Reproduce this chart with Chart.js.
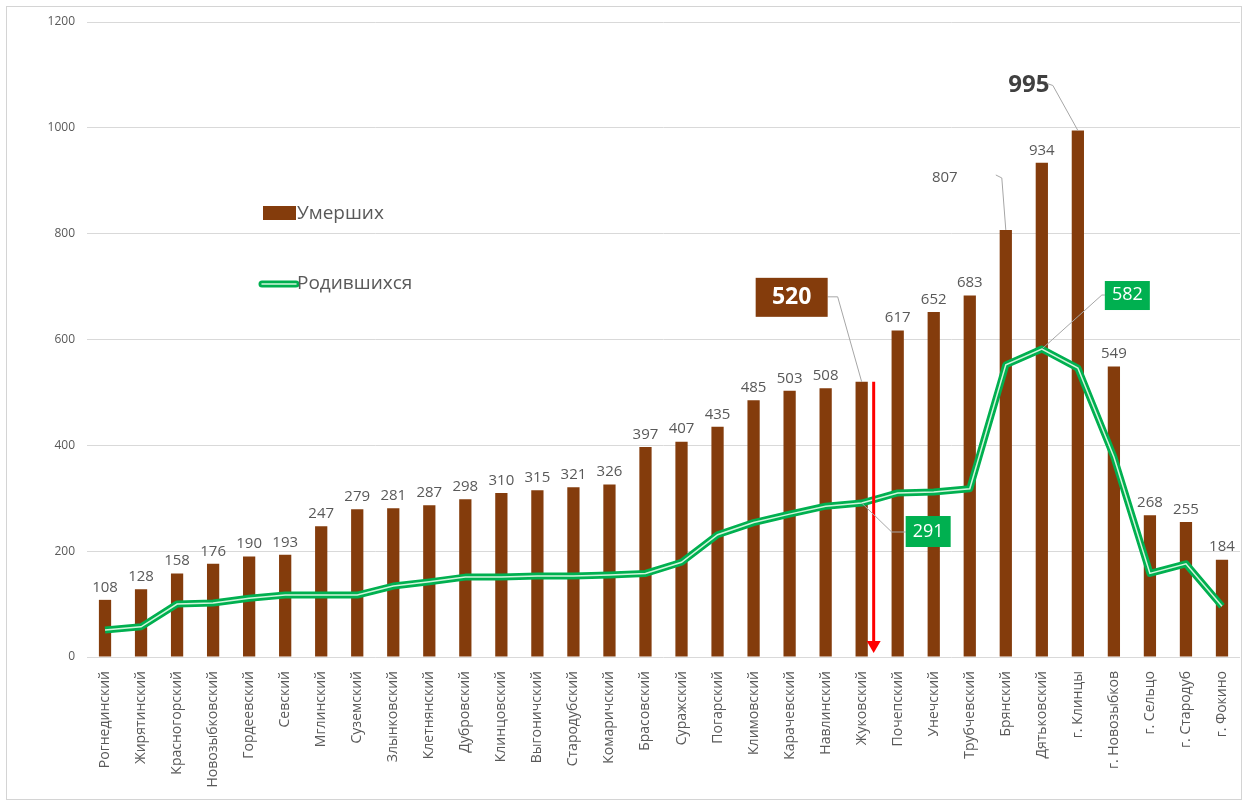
<!DOCTYPE html>
<html>
<head>
<meta charset="utf-8">
<script src="https://cdn.jsdelivr.net/npm/chart.js@4"></script>
<style>
  html, body { margin: 0; padding: 0; background: #fff; }
  #wrap { width: 1247px; height: 805px; position: relative; }
</style>
</head>
<body>
<div id="wrap"><canvas id="chart" width="1247" height="805"></canvas></div>
<script>
const categories = ["Рогнединский", "Жирятинский", "Красногорский", "Новозыбковский", "Гордеевский", "Севский",
    "Мглинский", "Суземский", "Злынковский", "Клетнянский", "Дубровский", "Клинцовский", "Выгоничский",
    "Стародубский", "Комаричский", "Брасовский", "Суражский", "Погарский", "Климовский", "Карачевский",
    "Навлинский", "Жуковский", "Почепский", "Унечский", "Трубчевский", "Брянский", "Дятьковский",
    "г. Клинцы", "г. Новозыбков", "г. Сельцо", "г. Стародуб", "г. Фокино"];
const deaths = [108, 128, 158, 176, 190, 193, 247, 279, 281, 287, 298, 310, 315, 321, 326, 397, 407, 435, 485, 503,
    508, 520, 617, 652, 683, 807, 934, 995, 549, 268, 255, 184];
const births = [51, 57, 100, 102, 111, 117, 117, 117, 134, 142, 151, 151, 153, 153, 155, 158, 179, 231, 254, 270,
    285, 291, 310, 312, 318, 552, 582, 546, 378, 158, 176, 96];
const yTicks = [0, 200, 400, 600, 800, 1000, 1200];

const BROWN = '#843C0C';
const GREEN = '#00B050';
const TEXT = '#595959';
const FONT = '"Open Sans", "Noto Sans", sans-serif';

// indexes with their own callouts instead of a plain label
const calloutIdx = { zhuk: 21, bryansk: 25, klintsy: 27, dyatkovo: 26 };

const framePlugin = {
    id: 'frame',
    beforeDraw(chart) {
        const ctx = chart.ctx;
        ctx.save();
        ctx.strokeStyle = '#d4d4d4';
        ctx.lineWidth = 1;
        ctx.strokeRect(6.5, 6.5, 1235, 793);
        ctx.restore();
    }
};

const labelsPlugin = {
    id: 'labels',
    afterDatasetsDraw(chart) {
        const ctx = chart.ctx;
        const bars = chart.getDatasetMeta(2).data;
        const line = chart.getDatasetMeta(1).data;
        ctx.save();
        ctx.textAlign = 'center';
        ctx.textBaseline = 'bottom';
        ctx.fillStyle = TEXT;
        ctx.font = '15px ' + FONT;
        const skip = [calloutIdx.zhuk, calloutIdx.bryansk, calloutIdx.klintsy];
        bars.forEach((b, i) => {
            if (skip.includes(i)) return;
            ctx.fillText(deaths[i], b.x, b.y - 5);
        });

        ctx.strokeStyle = '#a6a6a6';
        ctx.lineWidth = 1;

        // 807 - Брянский
        let b = bars[calloutIdx.bryansk];
        ctx.fillText(deaths[calloutIdx.bryansk], b.x - 61, b.y - 45);
        ctx.beginPath();
        ctx.moveTo(b.x - 10, b.y - 55);
        ctx.lineTo(b.x - 4, b.y - 52);
        ctx.lineTo(b.x, b.y);
        ctx.stroke();

        // 995 - г. Клинцы
        b = bars[calloutIdx.klintsy];
        ctx.font = 'bold 24px ' + FONT;
        ctx.fillStyle = '#404040';
        ctx.textBaseline = 'middle';
        ctx.fillText(deaths[calloutIdx.klintsy], b.x - 49, b.y - 45);
        ctx.beginPath();
        ctx.moveTo(b.x - 31, b.y - 47);
        ctx.lineTo(b.x - 25, b.y - 45);
        ctx.lineTo(b.x, b.y);
        ctx.stroke();

        // 520 - Жуковский
        b = bars[calloutIdx.zhuk];
        ctx.beginPath();
        ctx.moveTo(b.x - 34, b.y - 85);
        ctx.lineTo(b.x - 24, b.y - 85);
        ctx.lineTo(b.x, b.y);
        ctx.stroke();
        ctx.fillStyle = BROWN;
        ctx.fillRect(b.x - 106, b.y - 104, 72, 39);
        ctx.fillStyle = '#ffffff';
        ctx.font = 'bold 23px ' + FONT;
        ctx.fillText(deaths[calloutIdx.zhuk], b.x - 70, b.y - 84);

        // red arrow down from the top of the bar
        const y0 = chart.scales.y.getPixelForValue(0);
        ctx.strokeStyle = '#ff0000';
        ctx.fillStyle = '#ff0000';
        ctx.lineWidth = 3;
        ctx.beginPath();
        ctx.moveTo(b.x + 12, b.y);
        ctx.lineTo(b.x + 12, y0 - 14);
        ctx.stroke();
        ctx.beginPath();
        ctx.moveTo(b.x + 5, y0 - 16);
        ctx.lineTo(b.x + 19, y0 - 16);
        ctx.lineTo(b.x + 12, y0 - 4);
        ctx.closePath();
        ctx.fill();

        // 291 - births Жуковский
        let p = line[calloutIdx.zhuk];
        ctx.strokeStyle = '#a6a6a6';
        ctx.lineWidth = 1;
        ctx.beginPath();
        ctx.moveTo(p.x, p.y);
        ctx.lineTo(p.x + 30, p.y + 29);
        ctx.lineTo(p.x + 44, p.y + 29);
        ctx.stroke();
        ctx.fillStyle = GREEN;
        ctx.fillRect(p.x + 44, p.y + 13, 45, 31);
        ctx.fillStyle = '#ffffff';
        ctx.font = '18px ' + FONT;
        ctx.fillText(births[calloutIdx.zhuk], p.x + 66.5, p.y + 29);

        // 582 - births Дятьковский
        p = line[calloutIdx.dyatkovo];
        ctx.beginPath();
        ctx.moveTo(p.x, p.y);
        ctx.lineTo(p.x + 60, p.y - 54);
        ctx.lineTo(p.x + 63, p.y - 54);
        ctx.stroke();
        ctx.fillStyle = GREEN;
        ctx.fillRect(p.x + 63, p.y - 68, 45, 29);
        ctx.fillStyle = '#ffffff';
        ctx.fillText(births[calloutIdx.dyatkovo], p.x + 85.5, p.y - 54);

        // legend
        ctx.textAlign = 'left';
        ctx.font = '19px ' + FONT;
        ctx.fillStyle = BROWN;
        ctx.fillRect(263, 206, 33, 14);
        ctx.fillStyle = TEXT;
        ctx.fillText('Умерших', 297, 214);
        ctx.lineCap = 'round';
        ctx.strokeStyle = GREEN;
        ctx.lineWidth = 7;
        ctx.beginPath();
        ctx.moveTo(262, 284);
        ctx.lineTo(296, 284);
        ctx.stroke();
        ctx.strokeStyle = '#d2f5dc';
        ctx.lineWidth = 1.5;
        ctx.beginPath();
        ctx.moveTo(262, 284);
        ctx.lineTo(296, 284);
        ctx.stroke();
        ctx.fillStyle = TEXT;
        ctx.fillText('Родившихся', 297, 284);
        ctx.restore();
    }
};

new Chart(
    document.getElementById('chart'),
    {
        type: 'bar',
        data: {
            labels: categories,
            datasets: [
                {
                    type: 'line',
                    label: 'Родившихся',
                    data: births,
                    borderColor: '#d2f5dc',
                    borderWidth: 1.5,
                    pointRadius: 0,
                    tension: 0,
                    order: 0
                },
                {
                    type: 'line',
                    label: 'Родившихся',
                    data: births,
                    borderColor: GREEN,
                    borderWidth: 7,
                    pointRadius: 0,
                    tension: 0,
                    borderJoinStyle: 'round',
                    order: 1
                },
                {
                    label: 'Умерших',
                    data: deaths,
                    backgroundColor: BROWN,
                    barPercentage: 0.34,
                    categoryPercentage: 1,
                    order: 2
                }
            ]
        },
        options: {
            responsive: false,
            animation: false,
            layout: {
                padding: { left: 0, right: 7, top: 22, bottom: 0 }
            },
            plugins: {
                legend: { display: false },
                tooltip: { enabled: false }
            },
            scales: {
                x: {
                    grid: { display: false },
                    border: { display: false },
                    ticks: {
                        minRotation: 90,
                        maxRotation: 90,
                        autoSkip: false,
                        padding: 6,
                        color: TEXT,
                        font: { size: 14, family: FONT }
                    },
                    afterFit: (scale) => { scale.height = 148; }
                },
                y: {
                    min: 0,
                    max: 1200,
                    afterBuildTicks: (scale) => { scale.ticks = yTicks.map(v => ({ value: v })); },
                    grid: { color: '#d9d9d9', drawTicks: false },
                    border: { display: false },
                    ticks: {
                        padding: 12,
                        color: TEXT,
                        font: { size: 12, family: FONT },
                        callback: (v) => String(v)
                    },
                    afterFit: (scale) => { scale.width = 87; }
                }
            }
        },
        plugins: [framePlugin, labelsPlugin]
    }
);
</script>
</body>
</html>
